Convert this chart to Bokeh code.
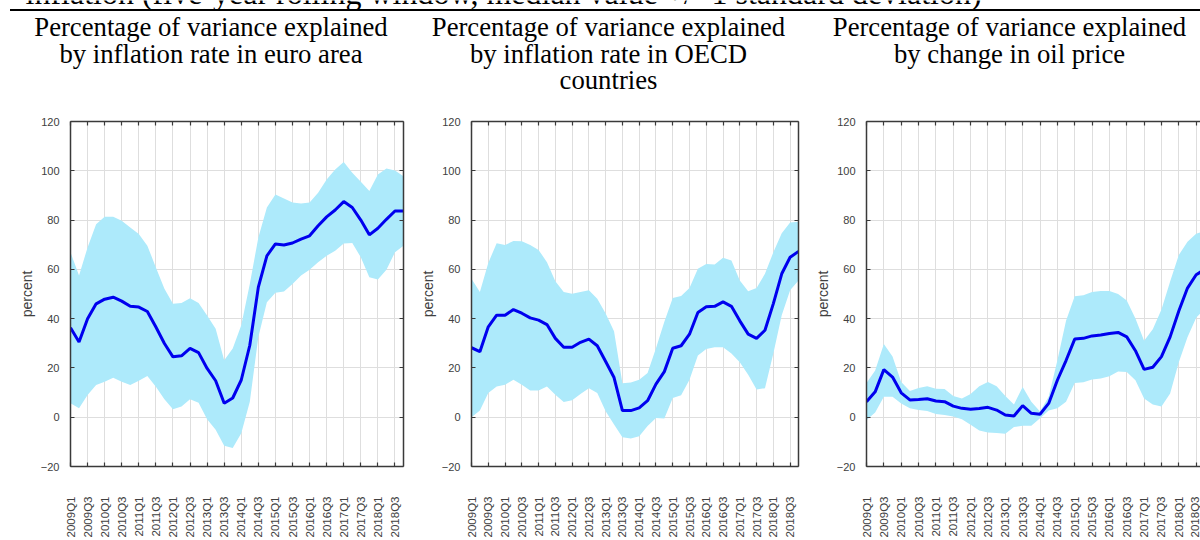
import math
from bokeh.plotting import figure
from bokeh.layouts import column, row
from bokeh.models import Range1d, LinearAxis, FixedTicker
from bokeh.embed import file_html
from bokeh.resources import INLINE
from bokeh.core.properties import value

# ---------------- data ----------------
quarters = [f"{yr}Q{q}" for yr in range(2009, 2019) for q in range(1, 5)]
x_idx = list(range(len(quarters)))
label_ticks = x_idx[::2]

ea_median = [36.3, 30.5, 40.0, 46.0, 47.9, 48.7, 47.1, 45.0, 44.7, 42.9,
             36.6, 29.9, 24.5, 24.9, 27.9, 26.2, 19.8, 14.8, 5.7, 7.8,
             15.1, 29.2, 52.8, 65.5, 70.3, 69.9, 70.7, 72.3, 73.6, 77.7,
             81.3, 84.1, 87.5, 85.1, 80.0, 74.0, 76.7, 80.3, 83.7, 83.7]
ea_upper = [66.9, 57.5, 68.9, 78.3, 81.3, 81.3, 79.7, 77.0, 74.3, 69.6,
            60.8, 52.1, 46.0, 46.3, 48.3, 46.3, 41.3, 35.9, 23.1, 27.9,
            37.3, 54.1, 72.9, 85.1, 90.4, 88.8, 87.1, 86.7, 87.1, 91.1,
            96.5, 100.5, 103.6, 99.2, 95.6, 91.8, 98.5, 100.9, 100.1, 97.8]
ea_lower = [5.7, 3.6, 9.0, 13.1, 14.4, 16.0, 14.4, 13.1, 14.8, 16.7,
            12.4, 7.3, 3.2, 4.3, 7.3, 5.9, -0.8, -5.1, -11.6, -12.5,
            -6.5, 6.3, 32.6, 46.7, 50.5, 51.0, 54.1, 57.5, 59.8, 62.9,
            65.5, 67.6, 70.5, 70.7, 64.9, 56.8, 55.9, 59.8, 66.9, 69.6]

oecd_median = [28.2, 26.6, 36.7, 41.4, 41.4, 43.7, 42.2, 40.3, 39.4, 37.6,
               32.0, 28.4, 28.4, 30.4, 31.7, 29.0, 22.6, 16.1, 2.7, 2.7,
               3.8, 6.7, 13.4, 18.5, 28.0, 29.0, 33.7, 42.5, 44.8, 45.0,
               46.8, 45.0, 39.1, 33.7, 32.0, 35.3, 46.1, 58.2, 64.9, 67.3]
oecd_upper = [56.2, 50.8, 62.6, 70.6, 69.9, 71.5, 71.4, 69.9, 67.9, 62.9,
              55.2, 50.8, 50.1, 50.8, 51.5, 48.1, 42.1, 34.9, 13.8, 14.1,
              15.2, 17.9, 28.0, 38.7, 48.4, 49.2, 52.4, 60.2, 62.2, 62.0,
              64.7, 63.6, 55.5, 51.1, 52.4, 58.2, 66.9, 74.7, 79.0, 79.3]
oecd_lower = [0.0, 2.7, 9.8, 12.5, 13.2, 15.2, 13.2, 10.8, 10.8, 12.5,
              9.1, 6.2, 6.9, 9.4, 11.8, 9.8, 2.4, -3.0, -8.1, -8.6,
              -7.7, -3.6, -0.3, -0.5, 7.8, 8.9, 15.2, 25.0, 27.7, 28.4,
              28.4, 25.9, 22.3, 17.2, 11.2, 11.8, 25.9, 41.4, 51.5, 55.5]

oil_median = [6.3, 10.3, 19.3, 16.3, 9.9, 7.0, 7.2, 7.5, 6.6, 6.3,
              4.5, 3.6, 3.2, 3.5, 4.0, 2.9, 0.9, 0.5, 4.7, 1.6,
              1.2, 5.6, 15.0, 23.0, 31.7, 32.0, 33.0, 33.4, 34.0, 34.4,
              32.6, 27.0, 19.4, 20.3, 24.6, 32.6, 43.1, 52.4, 57.8, 60.0]
oil_upper = [13.9, 19.0, 29.7, 24.6, 14.3, 10.6, 11.9, 12.6, 11.6, 11.4,
             8.6, 7.6, 9.4, 12.6, 14.3, 12.6, 8.6, 5.2, 12.3, 6.3,
             2.3, 8.3, 23.0, 39.1, 49.1, 49.5, 50.8, 51.2, 51.2, 50.0,
             47.4, 40.1, 31.0, 35.7, 43.7, 55.1, 65.8, 71.2, 74.5, 75.5]
oil_lower = [-1.1, 1.9, 8.3, 8.3, 5.6, 3.6, 2.9, 2.5, 1.3, 0.9,
             0.3, -0.8, -3.1, -5.4, -6.2, -6.4, -6.7, -4.0, -3.5, -3.5,
             -0.4, 2.7, 3.6, 6.3, 13.9, 14.2, 15.3, 15.7, 16.6, 18.6,
             18.3, 15.0, 7.6, 5.2, 4.3, 9.6, 22.3, 32.4, 40.4, 44.0]

header_text = "inflation (five-year rolling window, median value +/- 1 standard deviation)"
titles = [
    ["Percentage of variance explained", "by inflation rate in euro area"],
    ["Percentage of variance explained", "by inflation rate in OECD", "countries"],
    ["Percentage of variance explained", "by change in oil price"],
]
y_label = "percent"
y_ticks = [-20, 0, 20, 40, 60, 80, 100, 120]

# ---------------- style ----------------
BAND = "#adeafb"
LINE = "#0000ee"
AXIS = "#3a3a3a"
GRID = "#dedede"
SANS = "Liberation Sans"
SERIF = "Liberation Serif"

# ---------------- header strip ----------------
STRIP_H = 108
strip = figure(width=1200, height=STRIP_H, x_range=Range1d(0, 1200), y_range=Range1d(STRIP_H, 0),
               output_backend="svg", toolbar_location=None,
               x_axis_location=None, y_axis_location=None,
               min_border=0, outline_line_color=None)
strip.xgrid.visible = False
strip.ygrid.visible = False
strip.line(x=[9.5, 1200], y=[9.6, 9.6], line_color="black", line_width=2)
strip.text(x=[25], y=[-7.5], text=[header_text], text_font=value(SERIF),
           text_font_size="32px", text_align="left", text_baseline="alphabetic",
           text_color="black")
centers = [210.5, 608, 1009]
baselines = [26.5, 53.2, 79.9]
tx, ty, tt = [], [], []
for c, lines in zip(centers, titles):
    for i, ln in enumerate(lines):
        tx.append(c)
        ty.append(baselines[i])
        tt.append(ln)
strip.text(x=tx, y=ty, text=tt, text_font=value(SERIF), text_font_size="26.7px",
           text_align="center", text_baseline="alphabetic", text_color="black")


def style_axis(ax, ticks):
    ax.ticker = FixedTicker(ticks=ticks)
    ax.major_tick_in = 4
    ax.major_tick_out = 0
    ax.minor_tick_line_color = None
    ax.axis_line_color = AXIS
    ax.axis_line_width = 1.5
    ax.major_tick_line_color = AXIS
    ax.major_tick_line_width = 1.2
    ax.major_label_text_font = SANS
    ax.major_label_text_font_size = "11px"
    ax.major_label_text_color = "#404040"


def hidden_axis(ticks):
    ax = LinearAxis()
    style_axis(ax, ticks)
    ax.major_label_text_font_size = "0px"
    ax.major_label_text_color = None
    ax.major_label_standoff = 0
    return ax


PANEL_H = 540 - STRIP_H


def make_panel(med, up, lo, width, x_end, left_border, right_border, show_right):
    p = figure(width=width, height=PANEL_H, x_range=Range1d(0, x_end), y_range=Range1d(-20, 120),
               output_backend="svg", toolbar_location=None,
               min_border_left=left_border, min_border_right=right_border,
               min_border_top=121 - STRIP_H, min_border_bottom=PANEL_H - (468 - STRIP_H),
               outline_line_color=None, background_fill_color="white")
    xa = p.xaxis[0]
    style_axis(xa, label_ticks)
    xa.major_label_overrides = {i: quarters[i] for i in label_ticks}
    xa.major_label_orientation = math.pi / 2
    xa.major_label_standoff = 30
    xa.major_label_text_font_size = "11.5px"
    ya = p.yaxis[0]
    style_axis(ya, y_ticks)
    ya.major_label_standoff = 11
    ya.axis_label = y_label
    ya.axis_label_text_font = SANS
    ya.axis_label_text_font_size = "14px"
    ya.axis_label_text_font_style = "normal"
    ya.axis_label_text_color = "#404040"
    ya.axis_label_standoff = 3
    p.add_layout(hidden_axis(label_ticks), "above")
    if show_right:
        p.add_layout(hidden_axis(y_ticks), "right")
    p.xgrid.grid_line_color = GRID
    p.ygrid.grid_line_color = GRID
    p.xgrid.grid_line_width = 1
    p.ygrid.grid_line_width = 1
    p.varea(x=x_idx, y1=lo, y2=up, fill_color=BAND)
    p.line(x=x_idx, y=med, line_color=LINE, line_width=3)
    return p


p1 = make_panel(ea_median, ea_upper, ea_lower, 409, 39, 70, 6, True)
p2 = make_panel(oecd_median, oecd_upper, oecd_lower, 395, 39, 62, 6, True)
p3 = make_panel(oil_median, oil_upper, oil_lower, 396, 38.5, 62, 0, False)

layout = column(strip, row(p1, p2, p3, spacing=0), spacing=0)
open("out.html", "w").write(file_html(layout, INLINE))
